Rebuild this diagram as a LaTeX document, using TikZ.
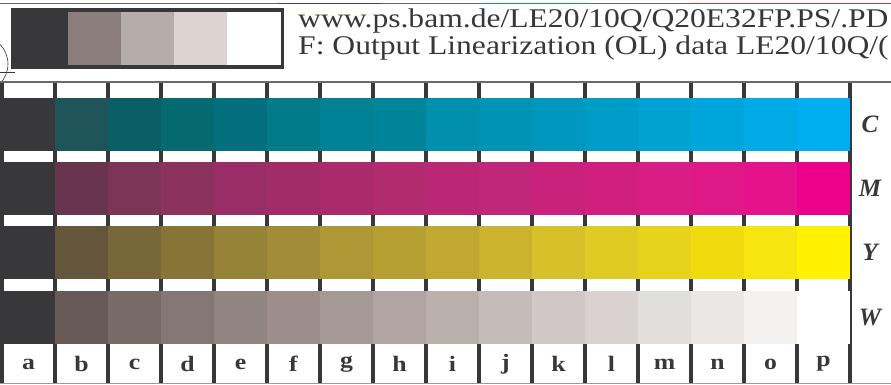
\documentclass[tikz,border=0pt]{standalone}
\usepackage{fontspec}
\setmainfont{Liberation Serif}
\usepackage{xcolor}
\usepackage{tikz}
\usetikzlibrary{calc}

\definecolor{ink}{HTML}{38383A}
\definecolor{rulegray}{HTML}{6A6A6A}
\definecolor{lowgray}{HTML}{9A9A9A}
\definecolor{topblue}{HTML}{3A3A8E}
\definecolor{topgreen}{HTML}{1A9E5A}
\definecolor{topred}{HTML}{E0302E}
\newcommand{\wide}[1]{\scalebox{1.17}[1]{#1}}

\tikzset{
  headtext/.style={anchor=base west, inner sep=0pt, text=ink, font=\fontsize{27}{27}\selectfont},
  collabel/.style={inner sep=0pt, text=ink, font=\fontsize{22}{22}\selectfont\bfseries},
  rowlabel/.style={inner sep=0pt, text=ink, font=\fontsize{25}{25}\selectfont\bfseries\itshape},
  tick/.style={fill=ink}
}

\begin{document}
\begin{tikzpicture}[x=1pt,y=-1pt]
\useasboundingbox (0,0) rectangle (891,385);
\clip (0,0) rectangle (891,385);
\fill[white] (0,0) rectangle (891,385);

% top rule with colour marks
\draw[line width=1.5, rulegray] (0,3.5) -- (891,3.5);
\draw[line width=1.5, topblue] (278,3.5) -- (381,3.5);
\draw[line width=1.5, topgreen] (484,3.5) -- (587,3.5);
\draw[line width=1.5, topred] (690,3.5) -- (891,3.5);

% registration mark
\draw[ink, line width=0.6] (-20,64) circle (28);
\draw[ink, line width=0.6] (-10,72) -- (15,72);

% grey steps
\fill[ink] (11,8) rectangle (284,69);
\foreach \x/\col in {68/8C7F7B,121/B6ACA8,174/DBD3D0,227/FFFFFF}{
  \definecolor{patch}{HTML}{\col}
  \fill[patch] (\x,12) rectangle ({\x+54},65);
}

\node[headtext] (url) at (298,28) {\wide{www.ps.bam.de/LE20/10Q/Q20E32FP.PS/.PD}};
\node[headtext] (title) at (298,55) {\wide{F: Output Linearization (OL) data LE20/10Q/(}};

% ticks between the rows
\foreach \k in {0,...,16}
  \fill[tick] ({2+53*\k-1.8},82) rectangle ({2+53*\k+1.8},384);

% C M Y W rows
\foreach \col [count=\j from 0] in {38383A,1F5558,0A5F66,056A70,036E7E,027A88,008294,008499,0090AC,0093B6,0097BF,009CC8,00A2D2,00A6DB,00AAE4,00AEEF}{
  \definecolor{patch}{HTML}{\col}
  \fill[patch] ({2+53*\j},98) rectangle ({55+53*\j},151);
}
\foreach \col [count=\j from 0] in {38383A,69344E,7C3457,8B335D,992D66,A02D68,AA2B6C,B22A70,BB2775,C0267A,C8227C,D11F80,D81D84,DF1888,E6128C,EC008C}{
  \definecolor{patch}{HTML}{\col}
  \fill[patch] ({2+53*\j},162) rectangle ({55+53*\j},215);
}
\foreach \col [count=\j from 0] in {38383A,63563B,786839,877538,968338,A28C37,AE9835,B59F33,C1A931,CBB32D,D7C02A,E0CB25,E8D31C,F0DA10,F6E50E,FFF100}{
  \definecolor{patch}{HTML}{\col}
  \fill[patch] ({2+53*\j},226) rectangle ({55+53*\j},279);
}
\foreach \col [count=\j from 0] in {38383A,675A59,776A67,857775,918582,9D8E8B,A69A97,B0A5A2,BAB1AD,C4BCB9,D0C8C6,D9D2D0,E1DEDC,EBE7E5,F3F2F1,FFFFFF}{
  \definecolor{patch}{HTML}{\col}
  \fill[patch] ({2+53*\j},291) rectangle ({55+53*\j},344);
}

\draw[line width=1.5, rulegray] (0,82) -- (891,82);
\draw[line width=1.5, lowgray] (0,383.5) -- (891,383.5);

% labels
\foreach \l [count=\j from 0] in {a,b,c,d,e,f,g,h,i,j,k,l,m,n,o,p}
  \node[collabel] (lab\l) at ({28.5+53*\j},364) {\wide{\l}};
\node[rowlabel] (rowC) at (870,124.5) {C};
\node[rowlabel] (rowM) at (870,188.5) {M};
\node[rowlabel] (rowY) at (870,252.5) {Y};
\node[rowlabel] (rowW) at (870,317.5) {W};
\end{tikzpicture}
\end{document}
